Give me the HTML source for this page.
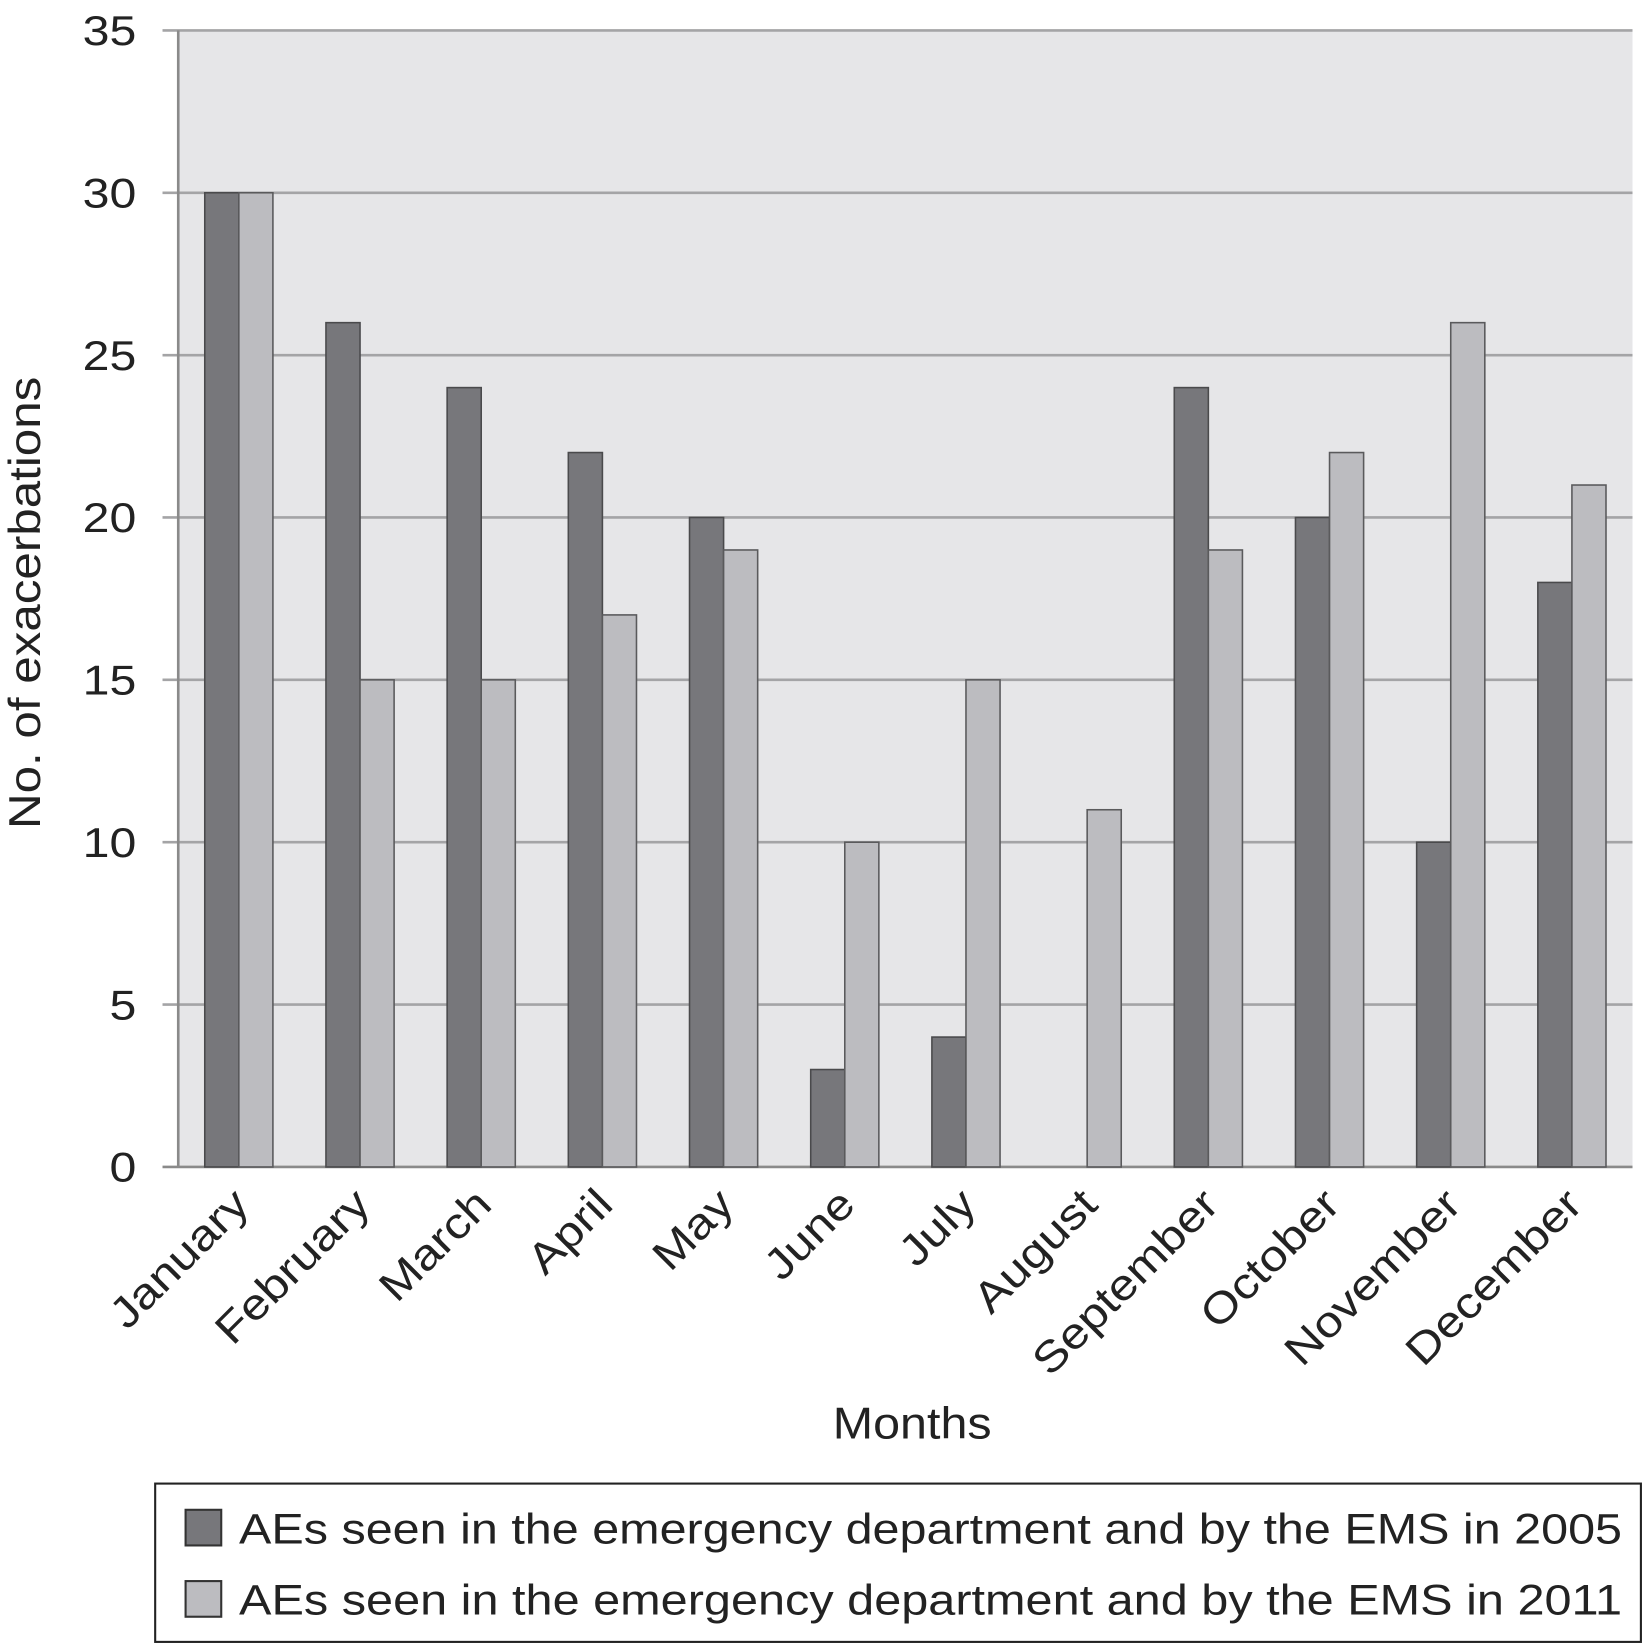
<!DOCTYPE html>
<html><head><meta charset="utf-8"><style>
html,body{margin:0;padding:0;background:#fff;}
svg{display:block;font-family:"Liberation Sans",Arial,sans-serif;}
</style></head><body>
<svg id="chart" width="1643" height="1644" viewBox="0 0 1567 1568" preserveAspectRatio="none" xmlns="http://www.w3.org/2000/svg">
<rect x="0" y="0" width="1567" height="1568" fill="#fff"/>
<rect x="170" y="29" width="1387" height="1084" fill="#e6e6e8"/>
<g id="grid"></g>
<g id="bars"></g>
<g id="xlabels"></g>
<text transform="translate(38,575) rotate(-90) scale(1.12,1)" text-anchor="middle" font-size="42" fill="#222">No. of exacerbations</text>
<text transform="translate(870,1372) scale(1.1,1)" text-anchor="middle" font-size="42" fill="#222">Months</text>
<g>
<rect x="148" y="1415" width="1417" height="151" fill="#fff" stroke="#222" stroke-width="2"/>
<rect x="177" y="1440" width="34" height="34" fill="#77777b" stroke="#333" stroke-width="2"/>
<text x="228" y="1472" font-size="41" fill="#222" textLength="1319" lengthAdjust="spacingAndGlyphs">AEs seen in the emergency department and by the EMS in 2005</text>
<rect x="177" y="1508" width="34" height="34" fill="#bcbcc0" stroke="#333" stroke-width="2"/>
<text x="228" y="1540" font-size="41" fill="#222" textLength="1319" lengthAdjust="spacingAndGlyphs">AEs seen in the emergency department and by the EMS in 2011</text>
</g>
</svg>
<script>
const months=["January","February","March","April","May","June","July","August","September","October","November","December"];
const series2005=[30,26,24,22,20,3,4,0,24,20,10,18];
const series2011=[30,15,15,17,19,10,15,11,19,22,26,21];
const yTicks=[0,5,10,15,20,25,30,35];
const NS="http://www.w3.org/2000/svg";
const X0=170,X1=1557,Y0=1113,Y1=29,YMAX=35;
const yS=v=>Y0-(Y0-Y1)*v/YMAX;
const cw=(X1-X0)/months.length;
const xC=i=>X0+cw*(i+0.5);
function mk(t,a,p){const e=document.createElementNS(NS,t);for(const k in a)e.setAttribute(k,a[k]);p.appendChild(e);return e;}
const grid=document.getElementById('grid');
yTicks.forEach(v=>{
 const y=yS(v);
 const l=mk('line',{x1:155,x2:X1,y1:y,y2:y,stroke:v===0?'#8a8a8a':'#a4a4a6','stroke-width':2.5},grid);
 
 
 const t=mk('text',{transform:`translate(130,${y+14}) scale(1.15,1)`,'text-anchor':'end','font-size':40,fill:'#222'},grid);
 t.textContent=v;
 
 
});
const ax=mk('line',{x1:X0,x2:X0,y1:Y1,y2:Y0,stroke:'#8a8a8a','stroke-width':2.5},grid);


const bars=document.getElementById('bars');
const bw=32.5;
months.forEach((m,i)=>{
 const c=xC(i);
 const a=series2005[i],b=series2011[i];
 if(a>0){const r=mk('rect',{x:c-bw,y:yS(a),width:bw,height:Y0-yS(a),fill:'#77777b',stroke:'#4a4a4c','stroke-width':1.5},bars);
 
 }
 if(b>0){const r=mk('rect',{x:c,y:yS(b),width:bw,height:Y0-yS(b),fill:'#bcbcc0',stroke:'#5a5a5c','stroke-width':1.5},bars);
 
 }
 const t=mk('text',{transform:`translate(${c+12},${Y0+38}) rotate(-45) scale(1.15,1)`,'text-anchor':'end','font-size':41,fill:'#222'},document.getElementById('xlabels'));
 t.textContent=m;
 
 
});
</script>
</body></html>
